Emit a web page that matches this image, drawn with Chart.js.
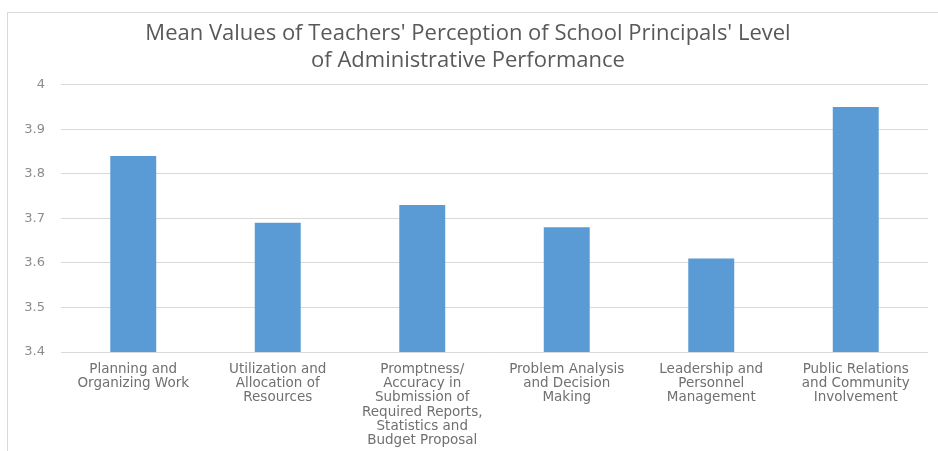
<!DOCTYPE html>
<html><head><meta charset="utf-8">
<script src="https://cdn.jsdelivr.net/npm/chart.js@4"></script>
<style>html,body{margin:0;padding:0;background:#fff}#wrap{width:938px;height:451px;position:relative}</style>
</head><body><div id="wrap"><canvas id="c" width="938" height="451"></canvas></div>
<script>
const categories = [
  ["Planning and", "Organizing Work"],
  ["Utilization and", "Allocation of", "Resources"],
  ["Promptness/", "Accuracy in", "Submission of", "Required Reports,", "Statistics and", "Budget Proposal"],
  ["Problem Analysis", "and Decision", "Making"],
  ["Leadership and", "Personnel", "Management"],
  ["Public Relations", "and Community", "Involvement"]
];
const meanValues = [3.84, 3.69, 3.73, 3.68, 3.61, 3.95];
const titleLines = ["Mean Values of Teachers' Perception of School Principals' Level", "of Administrative Performance"];
const yTickLabels = {"4": "4", "3.9": "3.9", "3.8": "3.8", "3.7": "3.7", "3.6": "3.6", "3.5": "3.5", "3.4": "3.4"};
const yMin = 3.4, yMax = 4, yStep = 0.1;

const borderPlugin = {
  id: 'frame',
  beforeDraw(chart) {
    const ctx = chart.ctx;
    ctx.save();
    ctx.fillStyle = '#fff';
    ctx.fillRect(0, 0, chart.width, chart.height);
    ctx.strokeStyle = '#d9d9d9';
    ctx.lineWidth = 1;
    ctx.strokeRect(7.5, 12.5, 940, 460);
    ctx.restore();
  }
};

new Chart(document.getElementById('c'), {
  type: 'bar',
  data: {
    labels: categories,
    datasets: [{ data: meanValues, backgroundColor: '#5b9bd5', barPercentage: 0.318, categoryPercentage: 1 }]
  },
  options: {
    responsive: false,
    animation: false,
    layout: { padding: { top: 10, left: 8, right: 10, bottom: 0 } },
    plugins: {
      legend: { display: false },
      tooltip: { enabled: false },
      title: {
        display: true,
        text: titleLines,
        color: '#595959',
        font: { family: 'Open Sans', size: 22, weight: 'normal' },
        lineHeight: 1.05,
        padding: { top: 11, bottom: 11 }
      }
    },
    scales: {
      x: {
        grid: { display: false },
        border: { display: false },
        ticks: { color: '#707070', font: { family: 'DejaVu Sans', size: 13.5, lineHeight: 1.06 }, maxRotation: 0, autoSkip: false, padding: 2 },
        afterFit(s) { s.height = 99; }
      },
      y: {
        min: yMin, max: yMax,
        grid: { color: '#d9d9d9', drawTicks: false },
        border: { display: false },
        ticks: {
          stepSize: yStep, color: '#8c8c8c', font: { family: 'DejaVu Sans', size: 13 }, padding: 16,
          callback: (v) => yTickLabels[String(Math.round(v * 10) / 10)] ?? ''
        },
        afterFit(s) { s.width = 53; }
      }
    }
  },
  plugins: [borderPlugin]
});
</script></body></html>
